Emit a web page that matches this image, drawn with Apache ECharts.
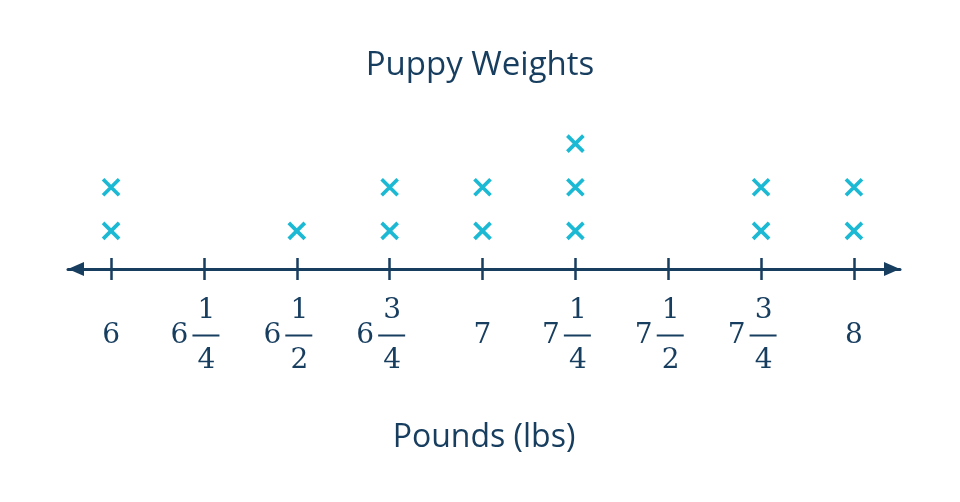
<!DOCTYPE html>
<html>
<head>
<meta charset="utf-8">
<script src="https://cdn.jsdelivr.net/npm/echarts@6/dist/echarts.min.js"></script>
<style>
html,body{margin:0;padding:0;background:#fff;}
#chart{width:960px;height:502px;}
</style>
</head>
<body>
<div id="chart"></div>
<script>
// Data
var weights = [6, 6.25, 6.5, 6.75, 7, 7.25, 7.5, 7.75, 8];
var counts = [2, 0, 1, 2, 2, 3, 0, 2, 2];
var labelWhole = ['6', '6', '6', '6', '7', '7', '7', '7', '8'];
var labelNum = ['', '1', '1', '3', '', '1', '1', '3', ''];
var labelDen = ['', '4', '2', '4', '', '4', '2', '4', ''];
var chartTitle = 'Puppy Weights';
var axisTitle = 'Pounds (lbs)';

var NAVY = '#173d5f';
var TEAL = '#1bb9d3';

var points = [];
weights.forEach(function (w, i) {
  for (var k = 1; k <= counts[i]; k++) points.push([w, k]);
});

function fmt(value) {
  var i = weights.indexOf(value);
  if (i < 0) return '';
  if (!labelNum[i]) {
    return '{pi| }\n{pi| }{w|' + labelWhole[i] + '}{pi| }\n{pi| }';
  }
  return '{pad| }{f|' + labelNum[i] + '}{padr| }\n' +
         '{w|' + labelWhole[i] + '}{bar| }{padr| }\n' +
         '{pad| }{f|' + labelDen[i] + '}{padr| }';
}

var serif = 'DejaVu Serif';
var rich = {
  w: { fontFamily: serif, fontSize: 28, color: NAVY, width: 26, align: 'center', lineHeight: 25 },
  f: { fontFamily: serif, fontSize: 28, color: NAVY, width: 26, align: 'center', lineHeight: 25 },
  bar: { width: 27, height: 2, backgroundColor: NAVY, lineHeight: 25, fontSize: 2 },
  pad: { width: 27, lineHeight: 25 },
  padr: { width: 22, lineHeight: 25 },
  pi: { width: 26, lineHeight: 25 }
};

var chart = echarts.init(document.getElementById('chart'), null, { renderer: 'canvas' });
chart.setOption({
  animation: false,
  backgroundColor: '#ffffff',
  title: {
    text: chartTitle,
    left: 'center',
    top: 44,
    textStyle: { fontFamily: 'Open Sans', fontSize: 33, fontWeight: 'normal', color: NAVY }
  },
  grid: { left: 68, right: 60, top: 100, bottom: 233 },
  xAxis: [{
    type: 'value',
    min: 5.884,
    max: 8.124,
    position: 'bottom',
    splitLine: { show: false },
    axisLine: {
      onZero: false,
      lineStyle: { color: NAVY, width: 3 },
      symbol: ['triangle', 'triangle'],
      symbolSize: [14, 16],
      symbolOffset: [8, -8]
    },
    axisTick: {
      customValues: weights,
      length: 11,
      lineStyle: { color: NAVY, width: 2.5 }
    },
    axisLabel: {
      customValues: weights,
      margin: 29,
      formatter: fmt,
      rich: rich
    },
    name: axisTitle,
    nameLocation: 'middle',
    nameGap: 153,
    nameTextStyle: { fontFamily: 'Open Sans', fontSize: 32, fontWeight: 'normal', color: NAVY }
  }, {
    type: 'value',
    min: 5.884,
    max: 8.124,
    position: 'bottom',
    splitLine: { show: false },
    axisLine: { show: false, onZero: false },
    axisTick: {
      customValues: weights,
      inside: true,
      length: 11,
      lineStyle: { color: NAVY, width: 2.5 }
    },
    axisLabel: { show: false }
  }],
  yAxis: {
    type: 'value',
    min: 0.125,
    max: 4,
    show: false,
    splitLine: { show: false }
  },
  series: [{
    type: 'scatter',
    xAxisIndex: 0,
    data: points,
    symbol: 'path://M0,0L10,10M10,0L0,10',
    symbolSize: 16,
    itemStyle: { color: 'rgba(0,0,0,0)', borderColor: TEAL, borderWidth: 3.7, opacity: 1 }
  }]
});
</script>
</body>
</html>
